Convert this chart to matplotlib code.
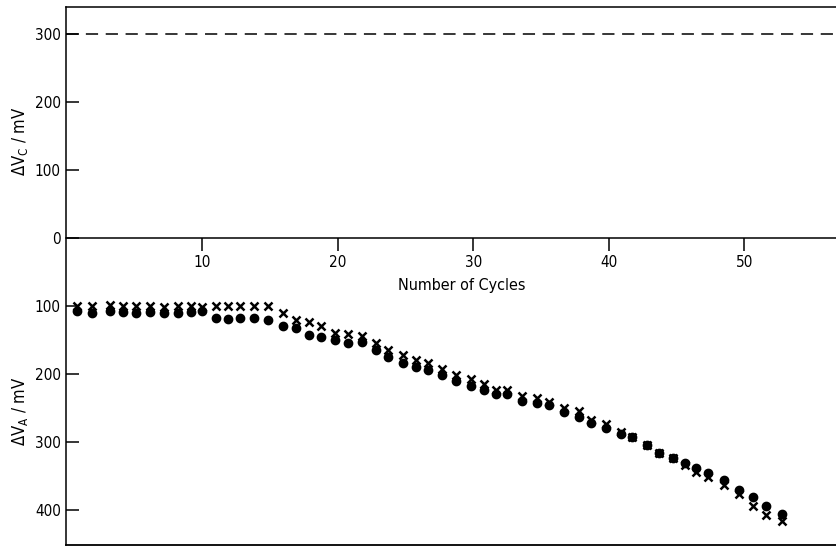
import matplotlib
matplotlib.use('Agg')
import matplotlib.pyplot as plt

plt.rcParams['font.family'] = ['DejaVu Sans']
plt.rcParams['font.stretch'] = 'condensed'
plt.rcParams['mathtext.fontset'] = 'dejavusans'

# cycle number of each measurement
cycles = [0.8, 1.9, 3.2, 4.2, 5.1, 6.2, 7.2, 8.2, 9.2, 10.0,
          11.0, 11.9, 12.8, 13.8, 14.9, 16.0, 16.9, 17.9, 18.8, 19.8,
          20.8, 21.8, 22.8, 23.7, 24.8, 25.8, 26.7, 27.7, 28.7, 29.8,
          30.8, 31.7, 32.5, 33.6, 34.7, 35.6, 36.7, 37.8, 38.7, 39.8,
          40.9, 41.7, 42.8, 43.7, 44.7, 45.6, 46.4, 47.3, 48.5, 49.6,
          50.6, 51.6, 52.8]

# anode voltage change (mV), plotted downwards
dva_dots = [108, 110, 108, 109, 110, 109, 110, 110, 109, 108,
            118, 119, 118, 118, 120, 130, 133, 143, 145, 150,
            155, 153, 164, 175, 184, 189, 194, 201, 211, 217,
            224, 230, 230, 240, 242, 246, 256, 263, 272, 280,
            289, 292, 304, 316, 323, 331, 339, 345, 356, 370,
            381, 394, 406]
dva_cross = [100, 100, 98, 100, 100, 100, 101, 100, 100, 101,
             100, 100, 100, 100, 100, 111, 120, 124, 130, 139,
             141, 144, 155, 164, 172, 180, 184, 192, 202, 207,
             215, 223, 223, 232, 235, 241, 250, 255, 267, 273,
             285, 292, 304, 316, 323, 334, 344, 352, 363, 377,
             394, 407, 416]

# cathode voltage change (mV)
dvc_level = 300

yticks = [300, 200, 100, 0, -100, -200, -300, -400]
xticks = [10, 20, 30, 40, 50]

fig = plt.figure(figsize=(8.36, 5.48), dpi=100)
ax = fig.add_axes([0.0794, 0.0055, 0.9206, 0.9812])

ax.axhline(dvc_level, color='black', lw=1.1, ls=(0, (8, 5)))
ax.plot(cycles, [-v for v in dva_dots], 'o', color='black', ms=6, zorder=3)
ax.plot(cycles, [-v for v in dva_cross], 'x', color='black', ms=6, mew=1.8, zorder=3)

ax.set_xlim(0, 56.75)
ax.set_ylim(-451.5, 339.3)

ax.spines['right'].set_visible(False)
ax.spines['bottom'].set_position(('data', 0))
for s in ['left', 'top', 'bottom']:
    ax.spines[s].set_linewidth(1.1)
# frame line at the bottom of the plot
ax.plot([0, 1], [0, 0], transform=ax.transAxes, color='black', lw=1.3, clip_on=False)

ax.set_yticks(yticks)
ax.set_yticklabels([str(abs(t)) for t in yticks])
ax.tick_params(axis='y', direction='in', length=9, width=1.1, labelsize=11, pad=4)
ax.set_xticks(xticks)
ax.tick_params(axis='x', direction='out', length=9, width=1.1, labelsize=11, pad=3)
ax.set_xlabel('Number of Cycles', fontsize=11.5)
ax.xaxis.set_label_coords(0.514, 0.496)

fig.text(0.024, 1 - 141 / 548, 'ΔV$_\\mathrm{C}$ / mV', rotation=90, fontsize=12,
         ha='center', va='center')
fig.text(0.024, 1 - 411 / 548, 'ΔV$_\\mathrm{A}$ / mV', rotation=90, fontsize=12,
         ha='center', va='center')

fig.savefig('out.png', dpi=100)
